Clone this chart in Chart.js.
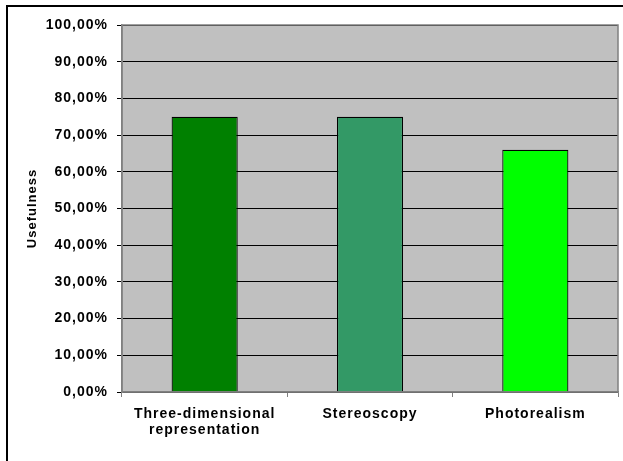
<!DOCTYPE html>
<html>
<head>
<meta charset="utf-8">
<script src="https://cdn.jsdelivr.net/npm/chart.js@4.4.0/dist/chart.umd.min.js"></script>
<style>
  html, body { margin: 0; padding: 0; background: #ffffff; }
  #wrap { width: 623px; height: 461px; position: relative; }
  canvas { display: block; }
</style>
</head>
<body>
<div id="wrap"><canvas id="chart" width="623" height="461"></canvas></div>
<script>
// Survey results: perceived usefulness of each visualisation feature (%)
const categories = [
  ['Three-dimensional', 'representation'],
  'Stereoscopy',
  'Photorealism'
];
const usefulness = [75, 75, 66];
const barColors = ['#008000', '#339966', '#00FF00'];
const yTicks = [0, 10, 20, 30, 40, 50, 60, 70, 80, 90, 100];

const FONT = '"Liberation Sans", Arial, sans-serif';

// Slightly tracked lettering, like the original spreadsheet export
const spacing = {
  id: 'spacing',
  beforeUpdate(chart) { chart.ctx.letterSpacing = '1px'; },
  beforeDraw(chart) { chart.ctx.letterSpacing = '1px'; }
};

// Grey plot background, grey plot frame, and the black outer border
const frame = {
  id: 'frame',
  beforeDraw(chart) {
    const { ctx, chartArea: a } = chart;
    ctx.save();
    ctx.fillStyle = '#ffffff';
    ctx.fillRect(0, 0, chart.width, chart.height);
    ctx.fillStyle = '#C0C0C0';
    ctx.fillRect(a.left, a.top, a.right - a.left, a.bottom - a.top);
    ctx.restore();
  },
  afterDatasetsDraw(chart) {
    const { ctx, chartArea: a } = chart;
    ctx.save();
    ctx.strokeStyle = '#808080';
    ctx.lineWidth = 1.5;
    ctx.strokeRect(a.left, a.top, a.right - a.left, a.bottom - a.top);
    ctx.restore();
  },
  afterDraw(chart) {
    const ctx = chart.ctx;
    ctx.save();
    ctx.strokeStyle = '#000000';
    ctx.lineWidth = 2;
    ctx.strokeRect(7, 6, chart.width + 20, chart.height + 20);
    ctx.restore();
  }
};

new Chart(document.getElementById('chart'), {
  type: 'bar',
  data: {
    labels: categories,
    datasets: [{
      data: usefulness,
      backgroundColor: barColors,
      borderColor: '#000000',
      borderWidth: 1.2,
      barPercentage: 0.4,
      categoryPercentage: 1.0
    }]
  },
  options: {
    responsive: false,
    animation: false,
    layout: { padding: { top: 25, right: 5, bottom: 0, left: 0 } },
    plugins: {
      legend: { display: false },
      tooltip: { enabled: false }
    },
    scales: {
      x: {
        offset: true,
        afterFit(scale) { scale.height = 69; },
        grid: {
          offset: true,
          drawOnChartArea: false,
          drawTicks: true,
          tickLength: 5,
          tickColor: '#808080',
          lineWidth: 1
        },
        border: { display: true, color: '#808080', width: 1.5 },
        ticks: {
          color: '#000000',
          padding: 9,
          maxRotation: 0,
          autoSkip: false,
          font: { family: FONT, size: 14, weight: 'bold', lineHeight: 1.15 }
        }
      },
      y: {
        min: 0,
        max: 100,
        afterFit(scale) { scale.width = 122; },
        afterBuildTicks(scale) { scale.ticks = yTicks.map(v => ({ value: v })); },
        grid: {
          color: '#000000',
          lineWidth: 1,
          drawTicks: true,
          tickLength: 5,
          tickColor: '#000000'
        },
        border: { display: true, color: '#808080', width: 1.5 },
        ticks: {
          color: '#000000',
          padding: 9,
          callback: v => v + ',00%',
          font: { family: FONT, size: 14, weight: 'bold' }
        },
        title: {
          display: true,
          text: 'Usefulness',
          color: '#000000',
          padding: { top: 25, bottom: 0 },
          font: { family: FONT, size: 13, weight: 'bold', lineHeight: 1.2 }
        }
      }
    }
  },
  plugins: [spacing, frame]
});
</script>
</body>
</html>
